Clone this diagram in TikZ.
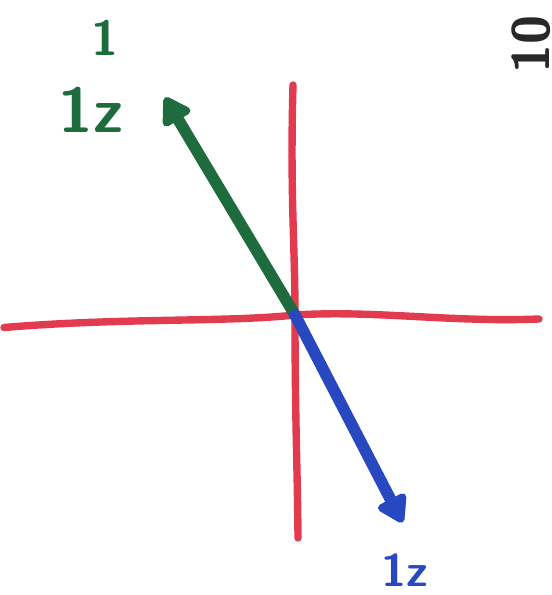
\documentclass[tikz,border=0pt]{standalone}
\usetikzlibrary{arrows.meta}
\definecolor{AxisRed}{RGB}{226,58,78}
\definecolor{VecGreen}{RGB}{30,108,62}
\definecolor{VecBlue}{RGB}{40,72,192}
\definecolor{PageGray}{RGB}{40,40,40}

\begin{document}
\begin{tikzpicture}[line cap=round, every node/.style={font=\sffamily\bfseries, align=center},
    axis/.style={AxisRed, line width=4.2pt},
    vec/.style={line width=6.6pt, -{Triangle[length=0.6cm, width=0.7cm, round]}}]
  \useasboundingbox (0,0) rectangle (11.02,11.9);
  % points of the sketch
  \coordinate (origin) at (5.9,5.6);
  \coordinate (xleft) at (0.08,5.35);
  \coordinate (xright) at (10.78,5.52);
  \coordinate (ytop) at (5.86,10.2);
  \coordinate (ybottom) at (5.96,1.14);
  \coordinate (gtip) at (3.3,9.95);
  \coordinate (btip) at (8.05,1.45);
  % axes
  \draw[axis] (xleft) .. controls (2.5,5.55) and (4.5,5.45) .. (origin) .. controls (7.5,5.7) and (9,5.45) .. (xright);
  \draw[axis] (ytop) .. controls (5.8,8) and (5.9,7) .. (origin) .. controls (5.9,3.5) and (5.95,2.5) .. (ybottom);
  % vectors
  \draw[vec, VecGreen] (origin) -- (gtip);
  \draw[vec, VecBlue] (origin) -- (btip);
  % labels
  \node[VecGreen, font=\fontsize{28}{28}\sffamily\bfseries] (gtop) at (2.1,11.15) {1};
  \node[VecGreen, font=\fontsize{36}{36}\sffamily\bfseries] (glabel) at (1.82,9.7) {1z};
  \node[VecBlue, font=\fontsize{26}{26}\sffamily\bfseries] (blabel) at (8.1,0.5) {1z};
  \node[PageGray, rotate=90, font=\fontsize{30}{30}\sffamily\bfseries] (page) at (10.62,11.0) {10};
\end{tikzpicture}
\end{document}
